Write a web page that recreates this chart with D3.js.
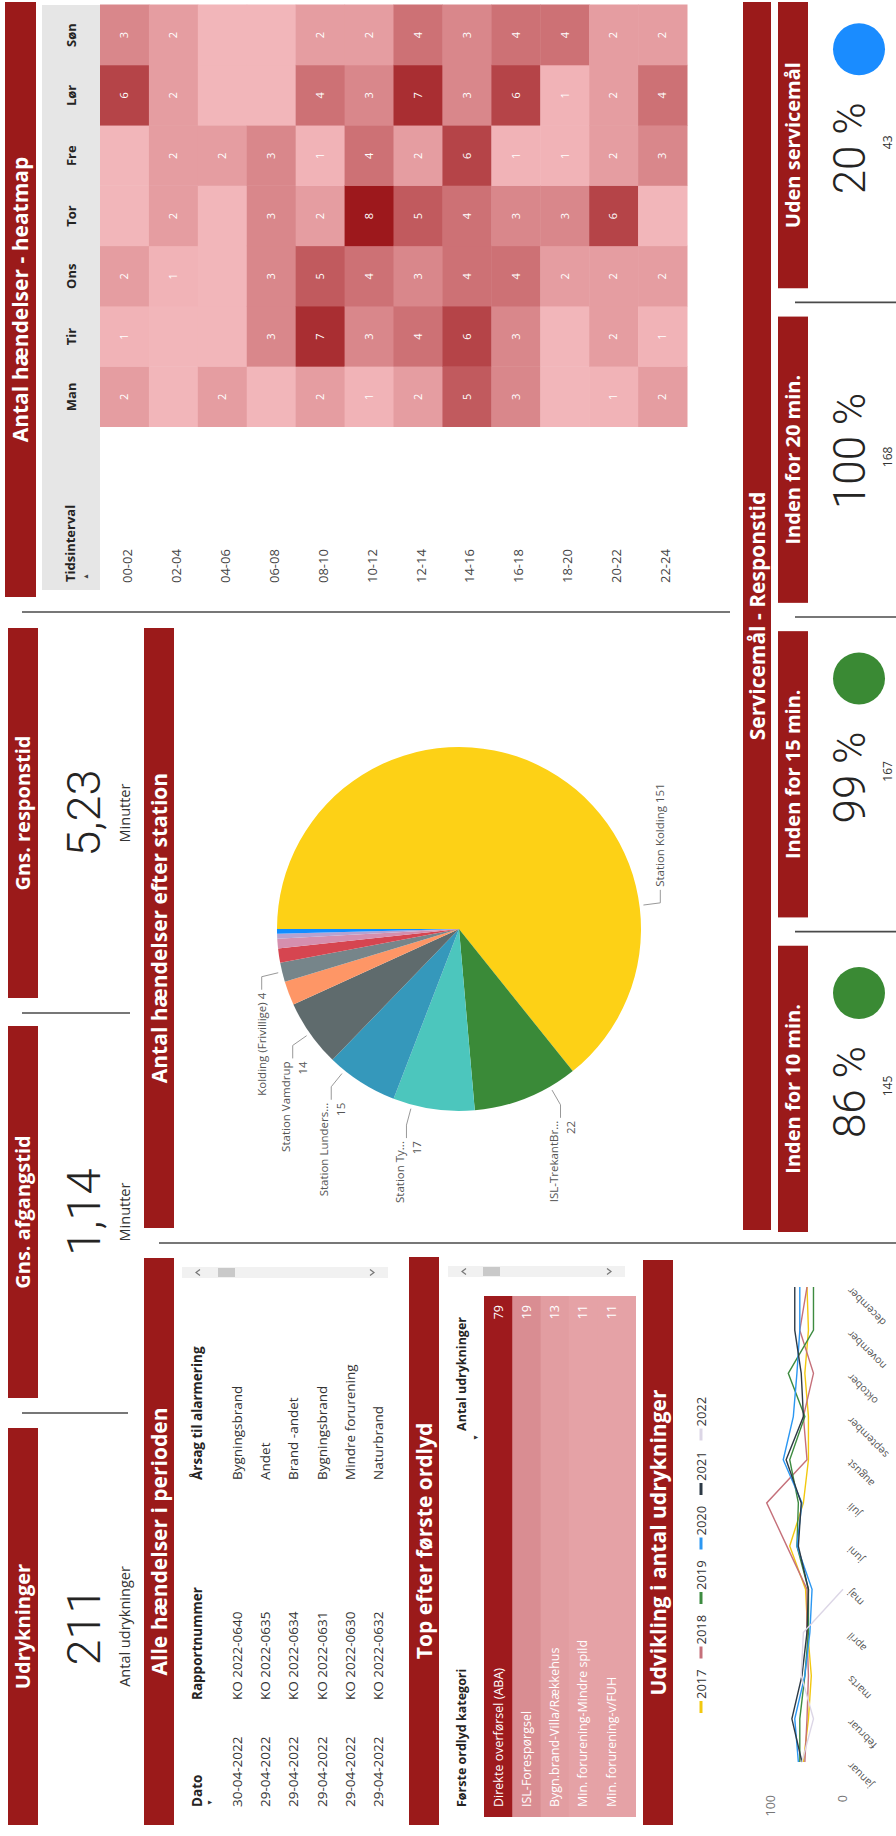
<!DOCTYPE html>
<html>
<head>
<meta charset="utf-8">
<script src="https://cdn.jsdelivr.net/npm/d3@7"></script>
<style>
    body { margin: 0; background: #fff; }
    text { font-family: "Open Sans", "Noto Sans", sans-serif; }
    .big { font-family: Roboto, "Open Sans", sans-serif; font-weight: 300; }
</style>
</head>
<body>
<div id="dash"></div>
<script>

// ---- data ----
const kpiTitles = ["Udrykninger", "Gns. afgangstid", "Gns. responstid"];
const kpiValues = ["211", "1,14", "5,23"];
const kpiUnits = ["Antal udrykninger", "Minutter", "Minutter"];

const days = ["Man", "Tir", "Ons", "Tor", "Fre", "Lør", "Søn"];
const timeSlots = ["00-02", "02-04", "04-06", "06-08", "08-10", "10-12",
                   "12-14", "14-16", "16-18", "18-20", "20-22", "22-24"];
// one row per time slot, Man..Søn, null = no events
const heatValues = [
    [2, 1, 2, null, null, 6, 3],
    [null, null, 1, 2, 2, 2, 2],
    [2, null, null, null, 2, null, null],
    [null, 3, 3, 3, 3, null, null],
    [2, 7, 5, 2, 1, 4, 2],
    [1, 3, 4, 8, 4, 3, 2],
    [2, 4, 3, 5, 2, 7, 4],
    [5, 6, 4, 4, 6, 3, 3],
    [3, 3, 4, 3, 1, 6, 4],
    [null, null, 2, 3, 1, 1, 4],
    [1, 2, 2, 6, 2, 2, 2],
    [2, 1, 2, null, 3, 4, 2]
];

const eventColumns = ["Dato", "Rapportnummer", "Årsag til alarmering"];
const eventDates = ["30-04-2022", "29-04-2022", "29-04-2022", "29-04-2022", "29-04-2022", "29-04-2022"];
const eventReports = ["KO 2022-0640", "KO 2022-0635", "KO 2022-0634", "KO 2022-0631", "KO 2022-0630", "KO 2022-0632"];
const eventCauses = ["Bygningsbrand", "Andet", "Brand -andet", "Bygningsbrand", "Mindre forurening", "Naturbrand"];

const firstColumns = ["Første ordlyd kategori", "Antal udrykninger"];
const firstCategories = ["Direkte overførsel (ABA)", "ISL-Forespørgsel", "Bygn.brand-Villa/Rækkehus",
                         "Min. forurening-Mindre spild", "Min. forurening-v/FUH"];
const firstCounts = [79, 19, 13, 11, 11];

const stationLabels = ["Station Kolding", "ISL-TrekantBr...", "Station Ty...", "Station Lunders...",
                       "Station Vamdrup", null, "Kolding (Frivillige)", null, null, null, null];
const stationCounts = [151, 22, 17, 15, 14, 5, 4, 3, 2, 1, 1];
const stationColors = ["#fdd116", "#3a8a38", "#4cc6bd", "#3598bb", "#5f6b6d", "#fe9666",
                       "#76858a", "#d64550", "#d58fae", "#b7a2d0", "#118dff"];

const months = ["januar", "februar", "marts", "april", "maj", "juni", "juli",
                "august", "september", "oktober", "november", "december"];
const years = ["2017", "2018", "2019", "2020", "2021", "2022"];
const yearColors = ["#f2c80f", "#c5707a", "#3d8b40", "#2b97f2", "#2d3a46", "#dcd6e6"];
const counts2017 = [55, 48, 44, 49, 52, 74, 55, 48, 48, 53, 48, 50];
const counts2018 = [53, 50, 48, 50, 50, 78, 106, 50, 55, 41, 60, 50];
const counts2019 = [60, 60, 53, 48, 48, 64, 62, 74, 53, 76, 41, 41];
const counts2020 = [62, 67, 53, 46, 43, 64, 57, 83, 69, 64, 60, 60];
const counts2021 = [57, 71, 57, 50, 48, 62, 58, 79, 55, 58, 67, 67];
const counts2022 = [57, 41, 58, 55, 0];
const yAxisTicks = [0, 100];

const serviceTitles = ["Inden for 10 min.", "Inden for 15 min.", "Inden for 20 min.", "Uden servicemål"];
const servicePct = [86, 99, 100, 20];
const serviceCounts = [145, 167, 168, 43];
const serviceDot = ["#3a8a34", "#3a8a34", null, "#1a8cff"];


// ---- drawing ----
const RED = "#9b1a1a";

let svg = d3.select("#dash").append("svg")
            .attr("width", 896)
            .attr("height", 1836);

// the report is laid out as a 1836x896 landscape page and turned a quarter
let board = svg.append("g")
               .attr("transform", "translate(0,1836) rotate(-90)");

function banner(x0, x1, y, h, label, size) {
    board.append("rect")
         .attr("x", x0).attr("y", y)
         .attr("width", x1 - x0).attr("height", h)
         .attr("fill", RED);
    board.append("text")
         .attr("x", (x0 + x1) / 2).attr("y", y + h / 2)
         .attr("dy", "0.36em")
         .attr("text-anchor", "middle")
         .attr("fill", "#fff")
         .attr("font-weight", 700)
         .attr("font-size", size)
         .text(label);
}

function rule(x1, y1, x2, y2) {
    board.append("line")
         .attr("x1", x1).attr("y1", y1)
         .attr("x2", x2).attr("y2", y2)
         .attr("stroke", "#4a4a4a")
         .attr("stroke-width", 1.6);
}

function label(x, y, txt, size, opts) {
    opts = opts || {};
    return board.append("text")
                .attr("x", x).attr("y", y)
                .attr("dy", "0.35em")
                .attr("text-anchor", opts.anchor || "start")
                .attr("font-size", size)
                .attr("font-weight", opts.weight || 400)
                .attr("fill", opts.fill || "#333")
                .text(txt);
}

function scrollbar(x, y0, y1, t0, t1) {
    board.append("rect")
         .attr("x", x).attr("y", y0)
         .attr("width", 11).attr("height", y1 - y0)
         .attr("fill", "#f1f1f1");
    board.append("rect")
         .attr("x", x + 1).attr("y", t0)
         .attr("width", 9).attr("height", t1 - t0)
         .attr("fill", "#c9c9c9");
    let cx = x + 5.5;
    board.append("path")
         .attr("d", `M${cx - 3},${y0 + 18} L${cx},${y0 + 14} L${cx + 3},${y0 + 18}`)
         .attr("fill", "none").attr("stroke", "#777").attr("stroke-width", 1.2);
    board.append("path")
         .attr("d", `M${cx - 3},${y1 - 18} L${cx},${y1 - 14} L${cx + 3},${y1 - 18}`)
         .attr("fill", "none").attr("stroke", "#777").attr("stroke-width", 1.2);
}

// KPI cards
let kpiBands = [[11, 408], [438, 810], [838, 1208]];
kpiTitles.forEach(function (t, i) {
    let x0 = kpiBands[i][0], x1 = kpiBands[i][1];
    let cx = (x0 + x1) / 2;
    banner(x0, x1, 8, 30, t, 20);
    board.append("text")
         .attr("class", "big")
         .attr("x", cx).attr("y", 100)
         .attr("text-anchor", "middle")
         .attr("font-size", 47)
         .attr("fill", "#252423")
         .text(kpiValues[i]);
    label(cx, 125, kpiUnits[i], 14.5, {anchor: "middle", fill: "#333"});
});
rule(423, 22, 423, 128);
rule(823, 22, 823, 130);
rule(1224, 22, 1224, 730);
rule(593, 159, 593, 896);

// heatmap
banner(1239, 1834, 5, 31, "Antal hændelser - heatmap", 21);
board.append("rect")
     .attr("x", 1246).attr("y", 42)
     .attr("width", 1831 - 1246).attr("height", 58)
     .attr("fill", "#e6e6e6");

let hx = d3.scaleBand().domain(days).range([1409, 1831]);
let hy = d3.scaleBand().domain(timeSlots).range([100, 687]);
let heatColor = d3.scaleLinear().domain([1, 8]).range(["#f1b3b7", "#9d181c"]);

let cells = [];
heatValues.forEach(function (row, r) {
    row.forEach(function (v, c) {
        cells.push({slot: timeSlots[r], day: days[c], val: v});
    });
});

board.selectAll("rect.cell")
     .data(cells)
     .enter()
     .append("rect")
     .attr("class", "cell")
     .attr("x", d => hx(d.day))
     .attr("y", d => hy(d.slot))
     .attr("width", hx.bandwidth() + 0.5)
     .attr("height", hy.bandwidth() + 0.5)
     .attr("fill", d => d.val === null ? "#f2b6ba" : heatColor(d.val));

board.selectAll("text.cellv")
     .data(cells.filter(d => d.val !== null))
     .enter()
     .append("text")
     .attr("class", "cellv")
     .attr("x", d => hx(d.day) + hx.bandwidth() / 2)
     .attr("y", d => hy(d.slot) + hy.bandwidth() / 2)
     .attr("dy", "0.35em")
     .attr("text-anchor", "middle")
     .attr("font-size", 11)
     .attr("fill", "#fff")
     .text(d => d.val);

days.forEach(function (d) {
    label(hx(d) + hx.bandwidth() / 2, 71, d, 13, {anchor: "middle", weight: 700, fill: "#252423"});
});
label(1254, 70, "Tidsinterval", 13, {weight: 700, fill: "#252423"});
label(1256, 86, "▲", 7, {fill: "#444"});
timeSlots.forEach(function (s) {
    label(1253, hy(s) + hy.bandwidth() / 2 + 3, s, 13, {fill: "#444"});
});

// responses per station
banner(608, 1208, 144, 30, "Antal hændelser efter station", 21);

let pieR = 182, pieCx = 907, pieCy = 459;
let slices = d3.pie().sort(null).value(d => d)(stationCounts);
let arc = d3.arc().innerRadius(0).outerRadius(pieR);
let pieG = board.append("g")
                .attr("transform", `translate(${pieCx},${pieCy})`);

pieG.selectAll("path")
    .data(slices)
    .enter()
    .append("path")
    .attr("d", arc)
    .attr("fill", (d, i) => stationColors[i]);

// Power BI shifts the leader lines a bit to keep the labels apart
let leaderDeg = [172.6, 240, 285, 309, 325, null, 346.4, null, null, null, null];
function onCircle(r, a) { return [r * Math.sin(a), -r * Math.cos(a)]; }

slices.forEach(function (s, i) {
    if (!stationLabels[i]) return;
    let a = leaderDeg[i] !== null ? leaderDeg[i] * Math.PI / 180 : (s.startAngle + s.endAngle) / 2;
    let side = Math.sin(a) >= 0 ? 1 : -1;
    let p1 = onCircle(pieR + 4, a);
    let p2 = onCircle(pieR + 21, a);
    let p3 = [p2[0] + side * 13, p2[1]];
    pieG.append("path")
        .attr("d", `M${p1[0]},${p1[1]} L${p2[0]},${p2[1]} L${p3[0]},${p3[1]}`)
        .attr("fill", "none")
        .attr("stroke", "#999")
        .attr("stroke-width", 1);
    let deg = a * 180 / Math.PI;
    let twoLines = deg > 200 && deg < 335;
    let tx = p3[0] + side * 3;
    let anchor = side > 0 ? "start" : "end";
    if (twoLines) {
        pieG.append("text").attr("x", tx).attr("y", p3[1] - 7).attr("dy", "0.35em")
            .attr("text-anchor", anchor).attr("font-size", 11.5).attr("fill", "#555")
            .text(stationLabels[i]);
        pieG.append("text").attr("x", tx).attr("y", p3[1] + 10).attr("dy", "0.35em")
            .attr("text-anchor", anchor).attr("font-size", 11.5).attr("fill", "#555")
            .text(stationCounts[i]);
    } else {
        pieG.append("text").attr("x", tx).attr("y", p3[1]).attr("dy", "0.35em")
            .attr("text-anchor", anchor).attr("font-size", 11.5).attr("fill", "#555")
            .text(stationLabels[i] + " " + stationCounts[i]);
    }
});

// table: all events
banner(11, 578, 144, 30, "Alle hændelser i perioden", 21);
let colX = [29, 136, 356];
eventColumns.forEach(function (c, i) {
    label(colX[i], 197, c, 13.5, {weight: 700, fill: "#252423"});
});
label(30, 210, "▼", 7, {fill: "#333"});
let ey = d3.scaleBand().domain(d3.range(eventDates.length)).range([223, 223 + 6 * 28.3]);
eventDates.forEach(function (d, i) {
    let y = ey(i) + ey.bandwidth() / 2;
    label(colX[0], y, d, 13.5);
    label(colX[1], y, eventReports[i], 13.5);
    label(colX[2], y, eventCauses[i], 13.5);
});
scrollbar(558, 182, 388, 218, 235);

// table: top first wording
banner(11, 579, 409, 30, "Top efter første ordlyd", 21);
label(29, 462, firstColumns[0], 12.5, {weight: 700, fill: "#252423"});
label(519, 462, firstColumns[1], 12.5, {weight: 700, fill: "#252423", anchor: "end"});
label(395, 476, "▼", 7, {fill: "#333"});

let fy = d3.scaleBand().domain(d3.range(firstCounts.length)).range([484, 484 + 5 * 28.3]);
let fColor = d3.scaleLinear().domain([11, 19, 79]).range(["#e5a2a6", "#d98d92", "#9e1a1d"]);
board.append("rect")
     .attr("x", 19).attr("y", 484)
     .attr("width", 521).attr("height", 636 - 484)
     .attr("fill", fColor(d3.min(firstCounts)));
board.selectAll("rect.frow")
     .data(firstCounts)
     .enter()
     .append("rect")
     .attr("class", "frow")
     .attr("x", 19)
     .attr("y", (d, i) => fy(i))
     .attr("width", 521)
     .attr("height", fy.bandwidth() + 0.5)
     .attr("fill", d => fColor(d));
firstCategories.forEach(function (c, i) {
    let y = fy(i) + fy.bandwidth() / 2;
    label(29, y, c, 12.5, {fill: "#fff"});
    label(531, y, firstCounts[i], 12.5, {fill: "#fff", anchor: "end"});
});
scrollbar(559, 448, 625, 483, 500);

// monthly development
banner(11, 576, 643, 30, "Udvikling i antal udrykninger", 21);
let series = [counts2017, counts2018, counts2019, counts2020, counts2021, counts2022];
let lx = d3.scalePoint().domain(months).range([74, 549]);
let ly = d3.scaleLinear().domain([0, 100]).range([843, 771]);
let line = d3.line()
             .x((d, i) => lx(months[i]))
             .y(d => ly(d));

board.selectAll("path.yr")
     .data(series)
     .enter()
     .append("path")
     .attr("class", "yr")
     .attr("d", d => line(d))
     .attr("fill", "none")
     .attr("stroke", (d, i) => yearColors[i])
     .attr("stroke-width", 1.4);

yAxisTicks.forEach(function (t) {
    label(41, ly(t), t, 12.5, {anchor: "end", fill: "#777"});
});
months.forEach(function (m) {
    let x = lx(m) - 2, y = 849;
    board.append("text")
         .attr("x", x).attr("y", y)
         .attr("dy", "0.35em")
         .attr("text-anchor", "end")
         .attr("transform", `rotate(-45,${x},${y})`)
         .attr("font-size", 10.5)
         .attr("fill", "#555")
         .text(m);
});
let legX = d3.scaleLinear().domain([0, 1]).range([123, 177.5]);
years.forEach(function (yr, i) {
    let x = legX(i);
    board.append("line")
         .attr("x1", x).attr("x2", x + 12)
         .attr("y1", 701).attr("y2", 701)
         .attr("stroke", yearColors[i])
         .attr("stroke-width", 3);
    label(x + 14, 701, yr, 13, {fill: "#333"});
});

// service goals
banner(606, 1834, 743, 28, "Servicemål - Responstid", 21);
let sx = d3.scaleBand().domain(serviceTitles).range([604, 1834]).paddingInner(0.09);
let gap = sx.step() - sx.bandwidth();
serviceTitles.forEach(function (t, i) {
    let x0 = sx(t);
    banner(x0, x0 + sx.bandwidth(), 778, 30, t, 20);
    if (i > 0) rule(x0 - gap / 2, 795, x0 - gap / 2, 896);
    let hasDot = serviceDot[i] !== null;
    board.append("text")
         .attr("class", "big")
         .attr("x", x0 + (hasDot ? 140 : 152)).attr("y", 865)
         .attr("text-anchor", "middle")
         .attr("font-size", 44)
         .attr("fill", "#252423")
         .text(servicePct[i] + " %");
    label(x0 + 146, 888, serviceCounts[i], 12, {anchor: "middle", fill: "#333"});
    if (hasDot) {
        board.append("circle")
             .attr("cx", x0 + 239).attr("cy", 859)
             .attr("r", 26)
             .attr("fill", serviceDot[i]);
    }
});

</script>
</body>
</html>
